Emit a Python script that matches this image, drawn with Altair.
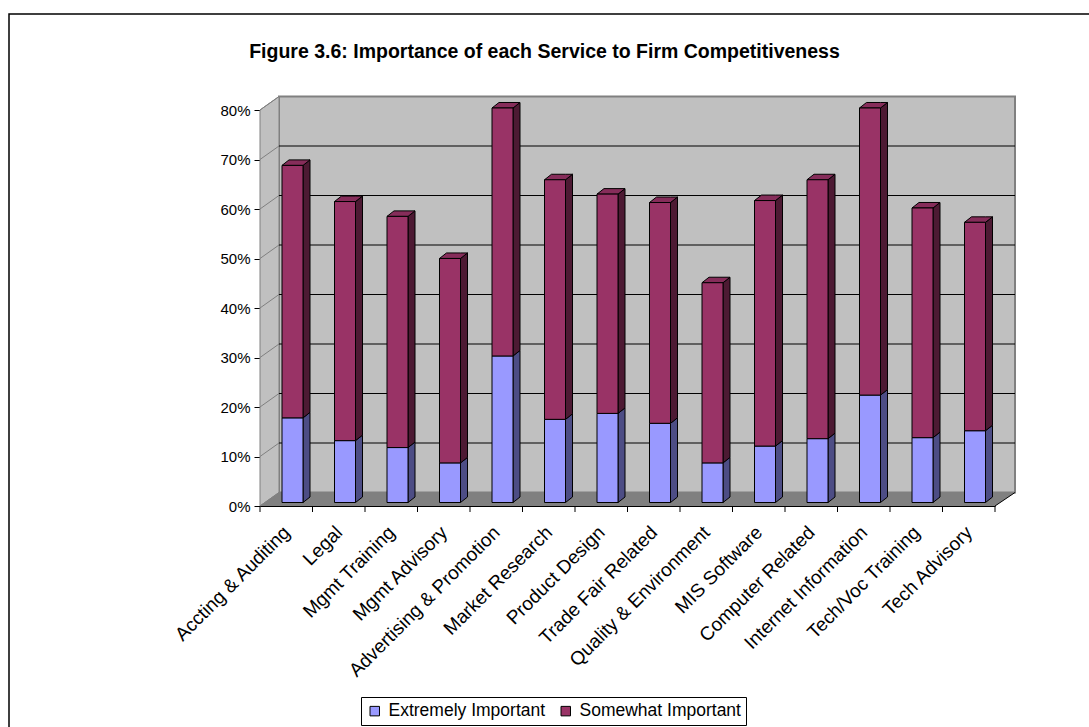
import json
import altair as alt
import pandas as pd

# ---- data -------------------------------------------------------------
services = [
    "Accting & Auditing", "Legal", "Mgmt Training", "Mgmt Advisory",
    "Advertising & Promotion", "Market Research", "Product Design",
    "Trade Fair Related", "Quality & Environment", "MIS Software",
    "Computer Related", "Internet Information", "Tech/Voc Training",
    "Tech Advisory",
]
extremely = [17.1, 12.5, 11.1, 8.0, 29.6, 16.8, 18.0, 16.0, 8.0, 11.4, 12.9, 21.7, 13.1, 14.5]
somewhat = [51.0, 48.3, 46.7, 41.3, 50.1, 48.4, 44.3, 44.6, 36.4, 49.6, 52.3, 58.0, 46.4, 42.1]
series_names = ["Extremely Important", "Somewhat Important"]
y_ticks = [0.0, 0.1, 0.2, 0.3, 0.4, 0.5, 0.6, 0.7, 0.8]

# ---- style ------------------------------------------------------------
FRONT = ["#9999FF", "#993366"]
SIDE = ["#4D4D85", "#4D1A33"]
TOP = "#862D5A"
WALL = "#C0C0C0"
FLOOR = "#808080"
FONT = "Liberation Sans"

W, H = 735, 396
N = len(services)
Y_MAX = 0.8

# pixel sizes of the pseudo 3-D projection
WALL_DX, WALL_DY = 19, 13.5
BAR_LEFT, BAR_W = 22, 21
BAR_DX, BAR_DY = 7, 5.5
BAR_LIFT = 3.5


def cat(px):
    return px * N / W


def val(px):
    return px * Y_MAX / H


x_scale = alt.Scale(domain=[0, N], nice=False, zero=False)
y_scale = alt.Scale(domain=[0, Y_MAX], nice=False, zero=False)

label_expr = json.dumps(services) + "[floor(datum.value)]"

x_axis = alt.Axis(
    values=[i + 0.5 for i in range(N)], labelExpr=label_expr, labelAngle=-45,
    labelAlign="right", labelBaseline="middle", labelPadding=23, labelOverlap=False,
    labelFontSize=19, labelFont=FONT, labelColor="black", ticks=False, tickSize=0,
    domainColor="black", domainWidth=1, grid=False, title=None, labelFlush=False,
    labelLimit=400,
)
y_axis = alt.Axis(
    values=y_ticks, format=".0%", tickSize=6, tickColor="black", domainColor="black",
    labelFontSize=15, labelFont=FONT, labelColor="black", labelPadding=4,
    grid=False, title=None,
)

# ---- tables for bars and their faces ---------------------------------
fronts, sides, tops = [], [], []
for i, name in enumerate(services):
    lo = 0.0
    x0 = i + cat(BAR_LEFT)
    x1 = x0 + cat(BAR_W)
    dx, dy = cat(BAR_DX), val(BAR_DY)
    for s, v in zip(series_names, (extremely[i], somewhat[i])):
        hi = lo + v / 100
        fronts.append(dict(service=name, series=s, x0=x0, x1=x1, lo=lo, hi=hi, pct=v))
        key = f"{i}-{s}"
        sides.append(dict(key=key, series=s, x=x1, y=lo, y2=hi))
        sides.append(dict(key=key, series=s, x=x1 + dx, y=lo + dy, y2=hi + dy))
        lo = hi
    tops += [
        dict(key=i, x=x0, y=lo, y2=lo),
        dict(key=i, x=x0 + dx, y=lo, y2=lo + dy),
        dict(key=i, x=x1, y=lo, y2=lo + dy),
        dict(key=i, x=x1 + dx, y=lo + dy, y2=lo + dy),
    ]

fronts = pd.DataFrame(fronts)
sides = pd.DataFrame(sides)
tops = pd.DataFrame(tops)

wdx, wdy = cat(WALL_DX), val(WALL_DY)
side_wall = pd.DataFrame({"x": [0, wdx], "y": [0, wdy], "y2": [Y_MAX, Y_MAX + wdy]})
floor = pd.DataFrame({
    "x": [0, wdx, N, N + cat(WALL_DX + 1)],
    "y": [0, 0, 0, wdy],
    "y2": [0, wdy, wdy, wdy],
})
grid = pd.DataFrame({"v": y_ticks})
one = pd.DataFrame({"k": [0]})
ticks = pd.DataFrame({"t": list(range(N + 1))})


def xd(v):
    return alt.XDatum(v, type="quantitative", scale=x_scale, axis=x_axis)


def yd(v):
    return alt.YDatum(v, type="quantitative", scale=y_scale, axis=y_axis)


def xf(f):
    return alt.X(f, type="quantitative", scale=x_scale, axis=x_axis)


def yf(f):
    return alt.Y(f, type="quantitative", scale=y_scale, axis=y_axis, stack=None)


# ---- frame ------------------------------------------------------------
border = alt.Chart(one).mark_rect(fillOpacity=0, stroke="black", strokeWidth=1.5).encode(
    x=alt.value(-251), x2=alt.value(W + 120), y=alt.value(-96), y2=alt.value(H + 240)
)

title = alt.Chart(one).mark_text(
    text="Figure 3.6:  Importance of each Service to Firm Competitiveness",
    font=FONT, fontSize=19.5, fontWeight="bold", color="black",
    align="center", baseline="middle",
).encode(x=alt.value(284.5), y=alt.value(-58))

wall = alt.Chart(one).mark_rect(
    fill=WALL, stroke=FLOOR, strokeWidth=2,
    xOffset=WALL_DX, x2Offset=WALL_DX + 1, yOffset=-WALL_DY, y2Offset=-WALL_DY,
).encode(x=xd(0), x2=alt.X2Datum(N), y=yd(0), y2=alt.Y2Datum(Y_MAX))

left_wall = alt.Chart(side_wall).mark_area(fill=WALL, stroke=FLOOR, strokeWidth=1).encode(
    x=xf("x"), y=yf("y"), y2="y2"
)

floor_layer = alt.Chart(floor).mark_area(fill=FLOOR).encode(x=xf("x"), y=yf("y"), y2="y2")

grid_back = alt.Chart(grid).transform_filter("datum.v > 0 && datum.v < 0.8").mark_rule(
    color="black", strokeWidth=1, xOffset=WALL_DX, x2Offset=WALL_DX + 1, yOffset=-WALL_DY
).encode(x=xd(0), x2=alt.X2Datum(N), y=yf("v"))

grid_side = alt.Chart(grid).mark_rule(
    color=FLOOR, strokeWidth=1, x2Offset=WALL_DX, y2Offset=-WALL_DY
).encode(x=xd(0), x2=alt.X2Datum(0), y=yf("v"), y2="v")

floor_edge = alt.Chart(one).mark_rule(
    color="black", strokeWidth=1, x2Offset=WALL_DX + 1, y2Offset=-WALL_DY
).encode(x=xd(N), x2=alt.X2Datum(N), y=yd(0), y2=alt.Y2Datum(0))

# ---- bars ---------------------------------------------------------------
side_layers = [
    alt.Chart(sides)
    .transform_filter(alt.datum.series == s)
    .mark_area(fill=c, stroke="black", strokeWidth=1, yOffset=-BAR_LIFT, y2Offset=-BAR_LIFT)
    .encode(x=xf("x"), y=yf("y"), y2="y2", detail="key:N")
    for s, c in zip(series_names, SIDE)
]

top_layer = alt.Chart(tops).mark_area(
    fill=TOP, stroke="black", strokeWidth=1, yOffset=-BAR_LIFT, y2Offset=-BAR_LIFT
).encode(x=xf("x"), y=yf("y"), y2="y2", detail="key:N")

front_layer = alt.Chart(fronts).mark_rect(
    stroke="black", strokeWidth=1, yOffset=-BAR_LIFT, y2Offset=-BAR_LIFT
).encode(
    x=xf("x0"),
    x2="x1",
    y=yf("lo"),
    y2="hi",
    color=alt.Color(
        "series:N",
        scale=alt.Scale(domain=series_names, range=FRONT),
        legend=alt.Legend(
            orient="none", legendX=101, legendY=587, direction="horizontal", title=None,
            strokeColor="black", fillColor="white", padding=5, symbolType="square",
            symbolSize=90, symbolStrokeColor="black", symbolStrokeWidth=1,
            labelFontSize=17.5, labelFont=FONT, labelColor="black", columnPadding=11,
            labelOffset=5, labelLimit=400,
        ),
    ),
    tooltip=["service:N", "series:N", "pct:Q"],
)

tick_layer = alt.Chart(ticks).mark_rule(color="black", y2Offset=6).encode(
    x=xf("t"), y=yd(0), y2=alt.Y2Datum(0)
)

chart = alt.layer(
    border, title, wall, left_wall, floor_layer, grid_back, grid_side, floor_edge,
    *side_layers, top_layer, front_layer, tick_layer,
).properties(
    width=W, height=H,
    padding={"left": 260, "top": 110, "right": 1089 - 260 - W, "bottom": 727 - 110 - H},
    autosize="none",
).configure(font=FONT).configure_view(stroke=None)

chart.save("out.html", embed_options={"renderer": "svg", "actions": False})
